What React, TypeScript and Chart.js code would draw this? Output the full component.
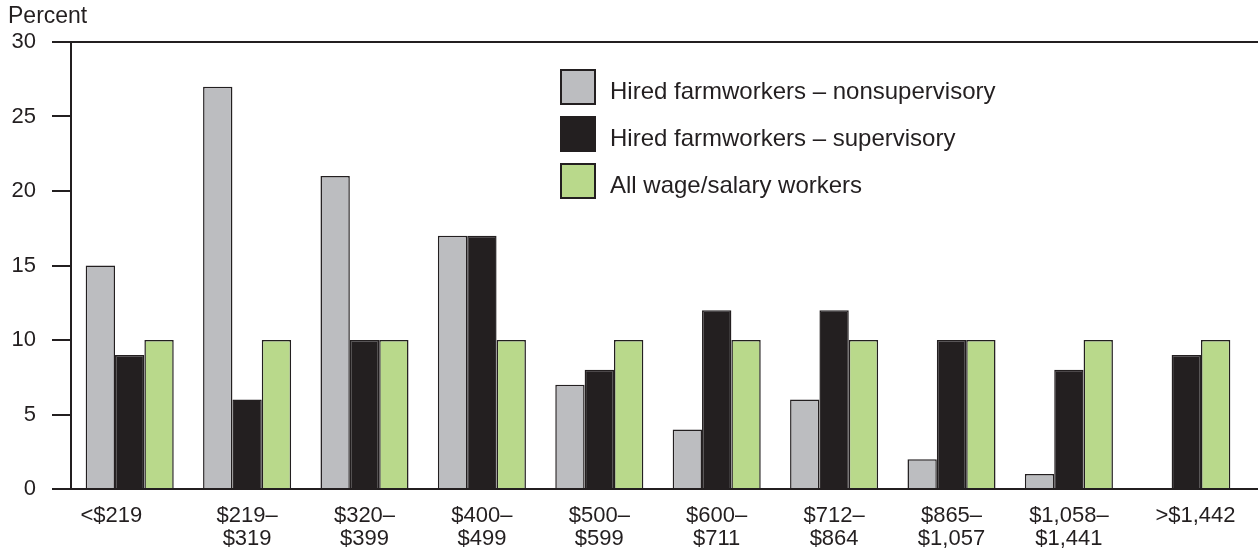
import React, { useEffect, useRef } from "react";
import { Chart, registerables } from "chart.js";

Chart.register(...registerables);

const categories: (string | string[])[] = [
  "<$219      ",
  ["$219–", "$319"],
  ["$320–", "$399"],
  ["$400–", "$499"],
  ["$500–", "$599"],
  ["$600–", "$711"],
  ["$712–", "$864"],
  ["$865–", "$1,057"],
  ["$1,058–", "$1,441"],
  "   >$1,442",
];
const nonsupervisory = [15, 27, 21, 17, 7, 4, 6, 2, 1, 0];
const supervisory = [9, 6, 10, 17, 8, 12, 12, 10, 8, 9];
const allWorkers = [10, 10, 10, 10, 10, 10, 10, 10, 10, 10];
const seriesLabels = [
  "Hired farmworkers – nonsupervisory",
  "Hired farmworkers – supervisory",
  "All wage/salary workers",
];
const yAxisTitle = "Percent";

const INK = "#231f20";
const GREY = "#bcbdc0";
const GREEN = "#b9d98b";
const FONT = "'Liberation Sans', Arial, Helvetica, sans-serif";

const overlay = {
  id: "overlay",
  afterDraw(chart: any) {
    const ctx = chart.ctx;
    const y = chart.scales.y;
    const area = chart.chartArea;
    ctx.save();
    ctx.strokeStyle = INK;
    ctx.lineWidth = 2;
    const yTop = y.getPixelForValue(30);
    const yZero = y.getPixelForValue(0);
    ctx.beginPath();
    ctx.moveTo(area.left, yTop);
    ctx.lineTo(1258, yTop);
    ctx.moveTo(area.right - 2, yZero);
    ctx.lineTo(1258, yZero);
    ctx.stroke();

    ctx.fillStyle = INK;
    ctx.font = `23px ${FONT}`;
    ctx.textBaseline = "alphabetic";
    ctx.textAlign = "left";
    ctx.fillText(yAxisTitle, 8, 23);

    // legend
    ctx.font = `24px ${FONT}`;
    const fills = [GREY, INK, GREEN];
    const rowsY = [70, 117, 164];
    chart.data.datasets.forEach((ds: any, i: number) => {
      const bx = 561;
      const by = rowsY[i];
      ctx.fillStyle = fills[i];
      ctx.fillRect(bx, by, 34, 34);
      ctx.lineWidth = 2;
      ctx.strokeStyle = INK;
      ctx.strokeRect(bx, by, 34, 34);
      ctx.fillStyle = INK;
      ctx.textBaseline = "middle";
      ctx.fillText(ds.label, 610, by + 22);
    });
    ctx.restore();
  },
};

export default function App() {
  const ref = useRef<HTMLCanvasElement | null>(null);
  useEffect(() => {
    if (!ref.current) return;
    const chart = new Chart(ref.current, {
      type: "bar",
      data: {
        labels: categories,
        datasets: [
          { label: seriesLabels[0], data: nonsupervisory, backgroundColor: GREY, borderColor: INK, borderWidth: 1.5 },
          { label: seriesLabels[1], data: supervisory, backgroundColor: INK, borderColor: INK, borderWidth: 1.5 },
          { label: seriesLabels[2], data: allWorkers, backgroundColor: GREEN, borderColor: INK, borderWidth: 1.5 },
        ],
      },
      options: {
        animation: false,
        responsive: false,
        maintainAspectRatio: false,
        layout: { padding: { top: 42, right: 13, left: 0, bottom: 0 } },
        plugins: { legend: { display: false }, tooltip: { enabled: false } },
        datasets: { bar: { categoryPercentage: 0.75, barPercentage: 1 } },
        scales: {
          x: {
            afterFit: (s: any) => { s.height = 67; },
            grid: { display: false, drawTicks: false },
            border: { display: true, color: INK, width: 2 },
            ticks: { color: INK, font: { family: FONT, size: 22, lineHeight: 1.05 }, padding: 15, maxRotation: 0, autoSkip: false },
          },
          y: {
            min: 0,
            max: 30,
            afterFit: (s: any) => { s.width = 71; },
            grid: { drawOnChartArea: false, drawTicks: true, tickLength: 19, color: INK, lineWidth: 2 },
            border: { display: true, color: INK, width: 2 },
            ticks: { stepSize: 5, color: INK, font: { family: FONT, size: 22 }, padding: 16 },
          },
        },
      },
      plugins: [overlay],
    });
    return () => chart.destroy();
  }, []);
  return (
    <div style={{ position: "fixed", left: 0, top: 0, width: 1258, height: 556, background: "#fff" }}>
      <canvas ref={ref} width={1258} height={556} style={{ width: 1258, height: 556, display: "block" }} />
    </div>
  );
}
